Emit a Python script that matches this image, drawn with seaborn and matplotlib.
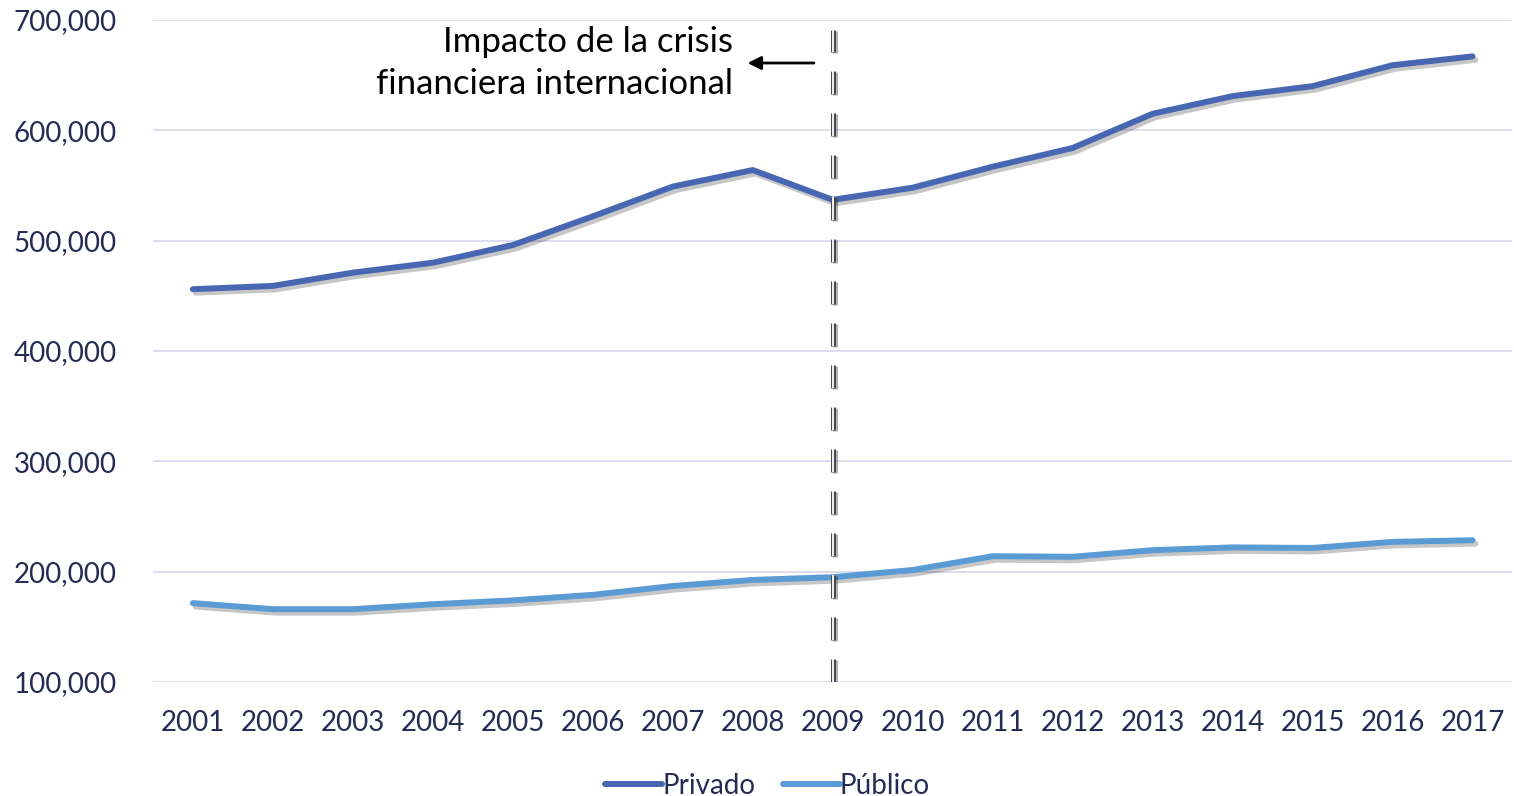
import matplotlib
matplotlib.use("Agg")
import matplotlib.pyplot as plt
import matplotlib.patheffects as pe
import numpy as np
import pandas as pd
import seaborn as sns

years = list(range(2001, 2018))
privado = [456000, 459000, 471000, 480000, 496000, 522000, 549000, 564000, 537000,
           548000, 567000, 584000, 615000, 631000, 640000, 659000, 667000]
publico = [171500, 166000, 166000, 170500, 174000, 179000, 187000, 192500, 195000,
           201500, 214000, 213500, 219500, 222000, 221500, 227000, 228500]
series_names = ["Privado", "Público"]
colors = ["#4767B2", "#5B9BD5"]
y_ticks = [100000, 200000, 300000, 400000, 500000, 600000, 700000]
crisis_year = 2009
note = "Impacto de la crisis\nfinanciera internacional"

df = pd.DataFrame({"año": years * 2,
                   "valor": privado + publico,
                   "serie": [series_names[0]] * len(years) + [series_names[1]] * len(years)})

sns.set_style("white")
plt.rcParams["font.family"] = ["Lato", "DejaVu Sans"]
text_col = "#262B55"

fig = plt.figure(figsize=(15.14, 7.96), dpi=100)
ax = fig.add_axes([0.101, 0.1432, 0.898, 0.8317])

shadow = [pe.SimpleLineShadow(offset=(2, -2.5), shadow_color="#444444", alpha=0.3),
          pe.Normal()]
sns.lineplot(data=df, x="año", y="valor", hue="serie", palette=colors,
             linewidth=4.3, ax=ax, legend=False)
for ln in ax.get_lines():
    ln.set_solid_capstyle("round")
    ln.set_path_effects(shadow)

ax.set_xlim(2000.5, 2017.5)
ax.set_ylim(100000, 700000)
ax.set_yticks(y_ticks)
ax.set_yticklabels([f"{v:,}" for v in y_ticks])
ax.set_xticks(years)
ax.set_xticklabels([str(y) for y in years])
ax.yaxis.grid(True, color="#D9DAEE", linewidth=1.3)
ax.set_axisbelow(True)
for s in ax.spines.values():
    s.set_visible(False)
ax.tick_params(axis="both", length=0, labelsize=20, colors=text_col)
ax.tick_params(axis="y", pad=26)
ax.tick_params(axis="x", pad=20)
ax.set_xlabel("")
ax.set_ylabel("")

# double dashed vertical line
ax.axvline(crisis_year, ymin=0, ymax=0.985, color="#4a4a4a", linewidth=3.6,
           linestyle=(0, (4.6, 3.8)), zorder=5,
           path_effects=[pe.SimpleLineShadow(offset=(1.5, -1), alpha=0.3), pe.Normal()])
ax.axvline(crisis_year, ymin=0, ymax=0.985, color="white", linewidth=1.3,
           linestyle=(0, (4.6 * 3.6 / 1.3, 3.8 * 3.6 / 1.3)), zorder=6)

ax.annotate("", xy=(2007.9, 661000), xytext=(2008.8, 661000),
            arrowprops=dict(arrowstyle="-|>", color="black", lw=2, mutation_scale=20))
ax.text(2007.75, 661000, note, ha="right", va="center", fontsize=25,
        color="black", linespacing=1.4)

handles = [plt.Line2D([], [], color=c, linewidth=4.3, solid_capstyle="round") for c in colors]
fig.legend(handles, series_names, loc="lower center", bbox_to_anchor=(0.507, -0.035),
           ncol=2, frameon=False, fontsize=20, labelcolor=text_col,
           handlelength=2.05, handletextpad=0.0, columnspacing=1.0)

fig.savefig("out.png", dpi=100, facecolor="white")
